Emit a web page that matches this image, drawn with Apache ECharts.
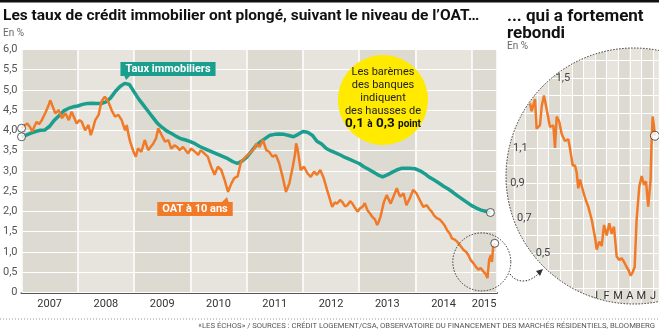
<!DOCTYPE html>
<html><head><meta charset="utf-8">
<script src="https://cdn.jsdelivr.net/npm/echarts@6/dist/echarts.min.js"></script>
<style>html,body{margin:0;padding:0;background:#fff}#c{width:659px;height:331px}</style>
</head><body><div id="c"></div>
<script>
// ---------- DATA ----------
const yearLabelPos = [2007.5, 2008.5, 2009.5, 2010.5, 2011.5, 2012.5, 2013.5, 2014.5, 2015.22];
// Taux immobiliers, monthly from Jan 2007
const tauxValues = [
  3.84,3.88,3.93,3.97,4.00,4.01,4.10,4.25,4.36,4.48,4.54,4.58,
  4.60,4.64,4.66,4.67,4.66,4.66,4.70,4.80,4.96,5.08,5.16,5.13,
  4.95,4.77,4.62,4.47,4.32,4.17,4.07,3.98,3.92,3.85,3.79,3.76,
  3.72,3.67,3.60,3.55,3.50,3.45,3.40,3.35,3.30,3.23,3.18,3.24,
  3.33,3.48,3.62,3.72,3.80,3.88,3.90,3.91,3.90,3.87,3.84,3.90,
  3.97,3.95,3.88,3.73,3.66,3.55,3.49,3.44,3.39,3.33,3.28,3.23,
  3.18,3.10,3.04,2.97,2.90,2.85,2.90,2.96,3.02,3.06,3.06,3.06,
  3.05,3.00,2.93,2.84,2.77,2.70,2.62,2.55,2.47,2.38,2.30,2.22,
  2.14,2.08,2.03,2.00,1.97
];
// OAT à 10 ans
const oatDates = [
  2007.00,2007.05,2007.10,2007.15,2007.19,2007.23,2007.27,2007.31,2007.36,2007.42,2007.47,2007.51,2007.55,2007.60,2007.66,2007.72,2007.78,2007.84,2007.89,2007.94,2007.98,
  2008.03,2008.07,2008.13,2008.19,2008.23,2008.27,2008.31,2008.37,2008.42,2008.48,2008.54,2008.60,2008.66,2008.72,2008.78,2008.84,2008.87,2008.90,2008.93,2008.99,
  2009.03,2009.07,2009.13,2009.19,2009.25,2009.30,2009.34,2009.39,2009.43,2009.49,2009.55,2009.61,2009.66,2009.72,2009.77,2009.81,2009.87,2009.92,2009.96,
  2010.01,2010.05,2010.10,2010.14,2010.18,2010.22,2010.27,2010.31,2010.37,2010.43,2010.49,2010.55,2010.61,2010.64,2010.67,2010.73,2010.78,2010.84,2010.90,2010.96,
  2011.05,2011.10,2011.14,2011.17,2011.23,2011.29,2011.35,2011.40,2011.46,2011.52,2011.58,2011.64,2011.70,2011.76,2011.82,2011.86,2011.88,2011.91,2011.96,
  2012.02,2012.08,2012.14,2012.20,2012.25,2012.31,2012.37,2012.43,2012.48,2012.52,2012.57,2012.61,2012.66,2012.70,2012.75,2012.79,2012.84,2012.88,2012.92,2012.97,
  2013.02,2013.06,2013.10,2013.15,2013.19,2013.23,2013.28,2013.32,2013.35,2013.38,2013.41,2013.44,2013.49,2013.56,2013.62,2013.67,2013.70,2013.73,2013.79,2013.84,2013.90,2013.96,
  2014.02,2014.08,2014.14,2014.20,2014.25,2014.29,2014.33,2014.38,2014.43,2014.47,2014.52,2014.56,2014.61,2014.65,2014.70,2014.74,2014.80,2014.86,2014.90,2014.94,2014.98,
  2015.03,2015.08,2015.12,2015.16,2015.21,2015.25,2015.28,2015.31,2015.34,2015.36,2015.38,2015.41
];
const oatValues = [
  4.05,4.12,4.17,4.08,3.97,4.10,4.21,4.15,4.25,4.42,4.58,4.74,4.60,4.42,4.50,4.30,4.42,4.25,4.46,4.30,4.17,
  4.25,4.21,4.00,4.13,3.88,4.05,4.25,4.38,4.71,4.83,4.71,4.50,4.34,4.38,4.25,4.00,4.13,3.90,3.72,3.47,
  3.35,3.55,3.47,3.76,3.51,3.60,3.67,3.80,4.05,3.88,3.72,3.76,3.55,3.63,3.58,3.51,3.59,3.50,3.43,
  3.55,3.51,3.45,3.39,3.50,3.47,3.40,3.35,3.10,2.90,3.10,3.02,2.77,2.62,2.48,2.69,2.82,2.86,3.22,3.31,
  3.43,3.50,3.55,3.67,3.59,3.76,3.51,3.47,3.35,3.39,3.18,2.85,2.48,2.69,3.10,3.40,3.68,3.51,3.02,
  3.10,2.94,2.85,2.98,2.90,3.02,2.82,2.53,2.30,2.11,2.22,2.19,2.28,2.23,2.12,2.15,2.25,2.19,2.10,1.99,
  2.08,2.11,2.20,2.02,1.95,1.87,1.80,1.66,1.75,1.87,2.05,2.23,2.40,2.19,2.40,2.57,2.45,2.36,2.44,2.15,2.32,2.53,
  2.44,2.27,2.11,2.15,2.05,1.99,1.90,1.83,1.80,1.74,1.65,1.54,1.45,1.33,1.30,1.25,1.15,1.04,1.00,0.92,0.80,
  0.72,0.62,0.56,0.60,0.51,0.45,0.35,0.80,0.92,0.75,1.09,1.21
];
// Zoom panel: months relative to January 2015 (0 = J)
const zoomMonths = [
  -5.60,-5.46,-5.17,-5.03,-4.74,-4.59,-4.40,-4.16,-3.88,-3.59,-3.45,-3.30,-3.08,-2.87,-2.59,-2.30,-2.16,-1.92,-1.72,-1.58,-1.44,-1.29,-1.01,-0.78,-0.58,-0.28,
  0.00,0.15,0.37,0.58,0.78,1.01,1.23,1.44,1.64,1.87,2.09,2.30,2.50,2.73,2.91,3.08,3.25,3.42,3.59,3.82,4.03,4.22,4.40,4.59,4.80,4.87,4.97,5.09,5.17
];
const zoomValues = [
  1.355,1.31,1.38,1.21,1.23,1.34,1.40,1.32,1.22,1.23,1.10,1.28,1.25,1.18,1.14,1.15,1.10,1.00,1.00,0.96,0.87,0.92,0.85,0.80,0.765,0.69,
  0.59,0.52,0.565,0.54,0.66,0.60,0.67,0.61,0.65,0.48,0.46,0.47,0.45,0.42,0.40,0.37,0.39,0.42,0.69,0.88,0.94,0.89,0.91,0.765,0.92,1.11,1.28,1.22,1.17
];
const monthLetters = ['J','F','M','A','M','J'];
const zoomYLabels = [0.5, 0.7, 0.9, 1.1, 1.5];

// ---------- CHART ----------
const TEAL = '#1c9e8e', ORANGE = '#f07a28';
const tauxData = tauxValues.map((v, i) => [2007 + i / 12, v]);
const oatData = oatValues.map((v, i) => [oatDates[i], v]);
const zoomData = zoomValues.map((v, i) => [zoomMonths[i], v]);
const fmt = v => v === 0 ? '0' : v.toFixed(1).replace('.', ',');
const endMark = { color: '#fff', borderColor: '#333', borderWidth: 1 };

const chart = echarts.init(document.getElementById('c'), null, { renderer: 'canvas' });
chart.setOption({
  animation: false,
  textStyle: { fontFamily: 'Roboto' },
  grid: [
    { left: 20, right: 162, top: 49.3, bottom: 38.7 },
    { left: 502.2, width: 156.6, top: 43, height: 262.5 }
  ],
  xAxis: [{
    type: 'value', gridIndex: 0, min: 2007, max: 2015.45, interval: 1, z: 0,
    axisLine: { show: true, onZero: false, lineStyle: { color: '#555', width: 2 } },
    axisTick: { show: false },
    axisLabel: { customValues: yearLabelPos, formatter: v => String(Math.floor(v)), color: '#333', fontSize: 11, margin: 6 },
    splitLine: { show: true, lineStyle: { color: '#fff', width: 1.5 } },
    splitArea: { show: true, areaStyle: { color: ['#dcdad1', '#e6e4dd'] } }
  }, {
    type: 'value', gridIndex: 1, min: -8, max: 5.5, interval: 1, z: 0,
    axisLine: { show: false }, axisTick: { show: false },
    axisLabel: { customValues: [0, 1, 2, 3, 4, 5], formatter: v => monthLetters[Math.round(v)] || '', inside: true, color: '#333', fontSize: 11, margin: 4 },
    splitLine: { show: true, lineStyle: { color: '#fff', width: 1 } },
    splitArea: { show: true, areaStyle: { color: ['#dcdad1', '#e6e4dd'] } }
  }],
  yAxis: [{
    type: 'value', gridIndex: 0, min: 0, max: 6, interval: 0.5, z: 1,
    axisLine: { show: false }, axisTick: { show: false },
    axisLabel: { formatter: fmt, color: '#555', fontSize: 11, margin: 4 },
    splitLine: { show: true, lineStyle: { color: '#fff', width: 1 } }
  }, {
    type: 'value', gridIndex: 1, min: 0.2, max: 1.7, interval: 0.1, z: 1,
    axisLine: { show: false }, axisTick: { show: false }, axisLabel: { show: false },
    splitLine: { show: true, lineStyle: { color: '#fff', width: 1 } }
  }],
  series: [
    { type: 'line', xAxisIndex: 0, yAxisIndex: 0, data: tauxData, showSymbol: false, lineStyle: { color: TEAL, width: 3.5 }, z: 3 },
    { type: 'line', xAxisIndex: 0, yAxisIndex: 0, data: oatData, showSymbol: false, lineStyle: { color: ORANGE, width: 2.5 }, z: 4 },
    { type: 'scatter', xAxisIndex: 0, yAxisIndex: 0, symbol: 'circle', symbolSize: 8, itemStyle: endMark, z: 5,
      data: [tauxData[0], oatData[0], tauxData[tauxData.length - 1], oatData[oatData.length - 1]] },
    { type: 'line', xAxisIndex: 1, yAxisIndex: 1, data: zoomData, showSymbol: false, lineStyle: { color: ORANGE, width: 2.5 }, z: 3 },
    { type: 'scatter', xAxisIndex: 1, yAxisIndex: 1, symbol: 'circle', symbolSize: 9, itemStyle: endMark, z: 4,
      data: [zoomData[zoomData.length - 1]] }
  ]
});

// ---------- ANNOTATIONS ----------
const CX = 634, CY = 176, R = 128;
const g = [];
g.push({ type: 'rect', z: 30, shape: { x: 0, y: 0, width: 659, height: 2.5 }, style: { fill: '#111' } });
g.push({ type: 'text', z: 30, x: 3, y: 16, style: { text: 'Les taux de crédit immobilier ont plongé, suivant le niveau de l\u2019OAT\u2026', font: 'bold 15.5px Roboto', fill: '#111', verticalAlign: 'middle' } });
g.push({ type: 'text', z: 30, x: 3, y: 33, style: { text: 'En %', font: '10px Roboto', fill: '#666', verticalAlign: 'middle' } });
g.push({ type: 'text', z: 30, x: 507, y: 17, style: { text: '... qui a fortement', font: 'bold 17px Roboto', fill: '#111', verticalAlign: 'middle' } });
g.push({ type: 'text', z: 30, x: 507, y: 33.5, style: { text: 'rebondi', font: 'bold 17px Roboto', fill: '#111', verticalAlign: 'middle' } });
g.push({ type: 'text', z: 30, x: 507, y: 46, style: { text: 'En %', font: '10px Roboto', fill: '#666', verticalAlign: 'middle' } });
// footer
g.push({ type: 'line', z: 30, shape: { x1: 0, y1: 319, x2: 659, y2: 319 }, style: { stroke: '#999', lineWidth: 1, lineDash: [1, 2] } });
g.push({ type: 'text', z: 30, x: 655, y: 326.5, style: { text: '\u00abLES ÉCHOS\u00bb / SOURCES : CRÉDIT LOGEMENT/CSA, OBSERVATOIRE DU FINANCEMENT DES MARCHÉS RÉSIDENTIELS, BLOOMBERG', font: '7.7px Roboto', fill: '#555', align: 'right', verticalAlign: 'middle' } });
// yellow bubble
g.push({ type: 'circle', z: 20, shape: { cx: 383, cy: 100, r: 45 }, style: { fill: '#ffea00' } });
['Les barèmes', 'des banques', 'indiquent', 'des hausses de'].forEach((t, i) => {
  g.push({ type: 'text', z: 21, x: 383, y: 72 + i * 13, style: { text: t, font: '11px Roboto', fill: '#222', align: 'center', verticalAlign: 'middle' } });
});
g.push({ type: 'text', z: 21, x: 383, y: 124, style: { text: '{b|0,1} {s|à} {b|0,3} {s|point}', align: 'center', verticalAlign: 'middle',
  rich: { b: { font: 'bold 13.5px Roboto', fill: '#111' }, s: { font: 'bold 10px Roboto', fill: '#111' } } } });
// series labels
g.push({ type: 'text', z: 21, x: 168, y: 69, style: { text: 'Taux immobiliers', font: 'bold 11px Roboto', fill: '#fff', align: 'center', verticalAlign: 'middle', backgroundColor: TEAL, padding: [2, 5, 1, 5] } });
g.push({ type: 'polygon', z: 21, shape: { points: [[124, 75], [131, 75], [126, 80]] }, style: { fill: TEAL } });
g.push({ type: 'text', z: 21, x: 195, y: 209, style: { text: 'OAT à 10 ans', font: 'bold 11px Roboto', fill: '#fff', align: 'center', verticalAlign: 'middle', backgroundColor: ORANGE, padding: [2, 5, 1, 5] } });
g.push({ type: 'polygon', z: 21, shape: { points: [[221, 203], [229, 203], [227, 197]] }, style: { fill: ORANGE } });
// zoom mask: rectangle with a circular hole (slit polygon)
const maskPts = [[500, 38], [659, 38], [659, 318], [500, 318], [500, CY], [CX - R, CY]];
for (let k = 1; k <= 240; k++) {
  const a = Math.PI - k * 2 * Math.PI / 240;
  maskPts.push([CX + R * Math.cos(a), CY + R * Math.sin(a)]);
}
maskPts.push([500, CY]);
g.push({ type: 'polygon', z: 10, shape: { points: maskPts }, style: { fill: '#fff' } });
g.push({ type: 'circle', z: 22, shape: { cx: CX, cy: CY, r: R }, style: { fill: null, stroke: '#333', lineWidth: 1, lineDash: [1.5, 1.5] } });
// zoom y labels hugging the circle
zoomYLabels.forEach(v => {
  const py = chart.convertToPixel({ yAxisIndex: 1 }, v);
  const ex = CX - Math.sqrt(R * R - (py - CY) * (py - CY));
  g.push({ type: 'text', z: 22, x: ex + 4, y: py, style: { text: fmt(v), font: '11px Roboto', fill: '#444', verticalAlign: 'middle' } });
});
// small circle around 2015 in main chart
const sc = chart.convertToPixel({ xAxisIndex: 0, yAxisIndex: 0 }, [2015.18, 0.75]);
g.push({ type: 'circle', z: 22, shape: { cx: sc[0], cy: sc[1], r: 29 }, style: { fill: null, stroke: '#333', lineWidth: 1, lineDash: [1.5, 1.5] } });
// arrow
g.push({ type: 'bezierCurve', z: 22, shape: { x1: 510, y1: 274, cpx1: 517, cpy1: 284, cpx2: 530, cpy2: 283, x2: 539, y2: 273 }, style: { stroke: '#333', lineWidth: 1, lineDash: [1.5, 1.5], fill: null } });
g.push({ type: 'polygon', z: 22, shape: { points: [[536, 271], [543, 269], [540, 276]] }, style: { fill: '#333' } });
chart.setOption({ graphic: { elements: g } });
</script></body></html>
